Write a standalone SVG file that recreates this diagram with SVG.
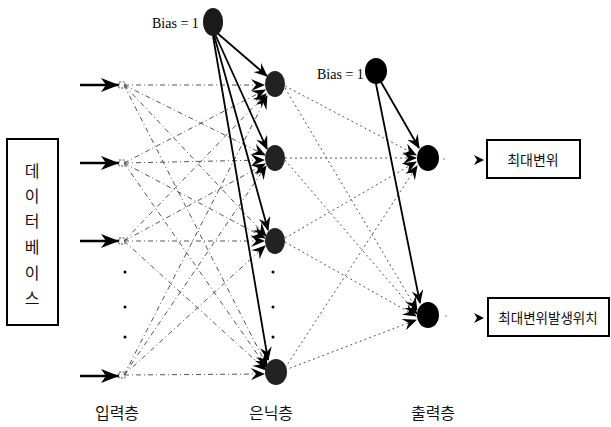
<svg xmlns="http://www.w3.org/2000/svg" width="611" height="427" viewBox="0 0 611 427">
<style>
.t{font-family:"Noto Sans CJK KR","Noto Sans",sans-serif;fill:#111}
.s{font-family:"Liberation Serif",serif;font-size:14px;fill:#000}
.dash{stroke:#555;stroke-width:1;stroke-dasharray:5 3 1 3;fill:none}
.dot{stroke:#555;stroke-width:1;stroke-dasharray:2 3;fill:none}
.bias{stroke:#000;stroke-width:1.8;fill:none}
.box{fill:#fff;stroke:#000;stroke-width:2}
</style>
<defs>
<marker id="ah" viewBox="0 0 14 12" refX="13" refY="6" markerWidth="14" markerHeight="12" markerUnits="userSpaceOnUse" orient="auto">
<path d="M0,0 L14,6 L0,12 L5,6 Z" fill="#000"/>
</marker>
<marker id="big" viewBox="0 0 18 14" refX="18" refY="7" markerWidth="18" markerHeight="14" markerUnits="userSpaceOnUse" orient="auto">
<path d="M0,0 L18,7 L0,14 L5,7 Z" fill="#000"/>
</marker>
</defs>

<g id="connectors">
<g class="dash" marker-end="url(#ah)">
<line x1="124" y1="85" x2="264" y2="85"/>
<line x1="124" y1="85" x2="265" y2="155"/>
<line x1="124" y1="85" x2="266" y2="236"/>
<line x1="124" y1="85" x2="267" y2="366"/>
<line x1="124" y1="163" x2="265" y2="90"/>
<line x1="124" y1="163" x2="264" y2="160"/>
<line x1="124" y1="163" x2="265" y2="238"/>
<line x1="124" y1="163" x2="267" y2="368"/>
<line x1="124" y1="241" x2="266" y2="94"/>
<line x1="124" y1="241" x2="265" y2="164"/>
<line x1="124" y1="241" x2="264" y2="241"/>
<line x1="124" y1="241" x2="266" y2="370"/>
<line x1="124" y1="375" x2="267" y2="96"/>
<line x1="124" y1="375" x2="266" y2="166"/>
<line x1="124" y1="375" x2="265" y2="246"/>
<line x1="124" y1="375" x2="264" y2="374"/>
</g>
<g class="dot" marker-end="url(#ah)">
<line x1="285" y1="86" x2="416" y2="155"/>
<line x1="285" y1="88" x2="417" y2="310"/>
<line x1="285" y1="158" x2="416" y2="158"/>
<line x1="285" y1="160" x2="417" y2="314"/>
<line x1="285" y1="238" x2="416" y2="162"/>
<line x1="285" y1="242" x2="416" y2="316"/>
<line x1="285" y1="368" x2="417" y2="166"/>
<line x1="285" y1="370" x2="416" y2="320"/>
</g>
<g class="bias" marker-end="url(#ah)">
<line x1="216" y1="32" x2="267" y2="76"/>
<line x1="215" y1="34" x2="267" y2="149"/>
<line x1="214" y1="35" x2="268" y2="230"/>
<line x1="213" y1="36" x2="268" y2="360"/>
<line x1="381" y1="82" x2="419" y2="148"/>
<line x1="376" y1="84" x2="420" y2="303"/>
</g>
<g stroke="#000" stroke-width="2.5" marker-end="url(#big)">
<line x1="80" y1="85" x2="119" y2="85"/>
<line x1="80" y1="163" x2="119" y2="163"/>
<line x1="80" y1="241" x2="119" y2="241"/>
<line x1="80" y1="376" x2="119" y2="376"/>
</g>
<g fill="#777">
<circle cx="444" cy="159" r="0.8"/>
<circle cx="446" cy="316" r="0.8"/>
</g>
<path d="M474,155 L484,160 L474,165 L477,160 Z" fill="#000"/>
<path d="M474,313 L484,318 L474,323 L477,318 Z" fill="#000"/>
</g>

<g id="database">
<rect x="7" y="139" width="51" height="186" class="box"/>
<g class="t" font-size="16" text-anchor="middle">
<text x="32" y="177">데</text>
<text x="32" y="202">이</text>
<text x="32" y="227">터</text>
<text x="32" y="253">베</text>
<text x="32" y="279">이</text>
<text x="32" y="304">스</text>
</g>
</g>

<g id="input-layer">
<g fill="none" stroke="#555" stroke-width="1" stroke-dasharray="2 1.5">
<rect x="119" y="82" width="6" height="6"/>
<rect x="119" y="160" width="6" height="6"/>
<rect x="119" y="238" width="6" height="6"/>
<rect x="119" y="372" width="6" height="6"/>
</g>
<g fill="#000">
<circle cx="125" cy="272" r="1.5"/>
<circle cx="125" cy="307" r="1.5"/>
<circle cx="125" cy="337" r="1.5"/>
</g>
</g>

<g id="bias1">
<ellipse cx="213" cy="22" rx="10" ry="14" fill="#1a1a1a"/>
<text x="152" y="28" class="s">Bias = 1</text>
</g>

<g id="hidden1"><ellipse cx="275" cy="84" rx="10" ry="13" fill="#222"/></g>
<g id="hidden2"><ellipse cx="275" cy="158" rx="10" ry="13" fill="#222"/></g>
<g id="hidden3"><ellipse cx="275" cy="241" rx="10" ry="13" fill="#222"/></g>
<g id="hidden4"><ellipse cx="276" cy="372" rx="11" ry="13" fill="#222"/></g>
<g id="hidden-dots" fill="#000">
<circle cx="273" cy="272" r="1.5"/>
<circle cx="273" cy="307" r="1.5"/>
<circle cx="273" cy="337" r="1.5"/>
</g>

<g id="bias2">
<ellipse cx="376" cy="71" rx="11" ry="13" fill="#000"/>
<text x="317" y="79" class="s">Bias = 1</text>
</g>

<g id="output1"><ellipse cx="428" cy="158" rx="11" ry="13" fill="#000"/></g>
<g id="output2"><ellipse cx="428" cy="315" rx="11" ry="13" fill="#000"/></g>

<g id="label1">
<rect x="487" y="140" width="93" height="38" class="box"/>
<text x="533" y="165" class="t" font-size="14" text-anchor="middle">최대변위</text>
</g>
<g id="label2">
<rect x="488" y="298" width="121" height="38" class="box"/>
<text x="548" y="323" class="t" font-size="13.5" text-anchor="middle">최대변위발생위치</text>
</g>

<g class="t" font-size="16" text-anchor="middle">
<text x="117" y="419">입력층</text>
<text x="271" y="419">은닉층</text>
<text x="433" y="419">출력층</text>
</g>
</svg>
